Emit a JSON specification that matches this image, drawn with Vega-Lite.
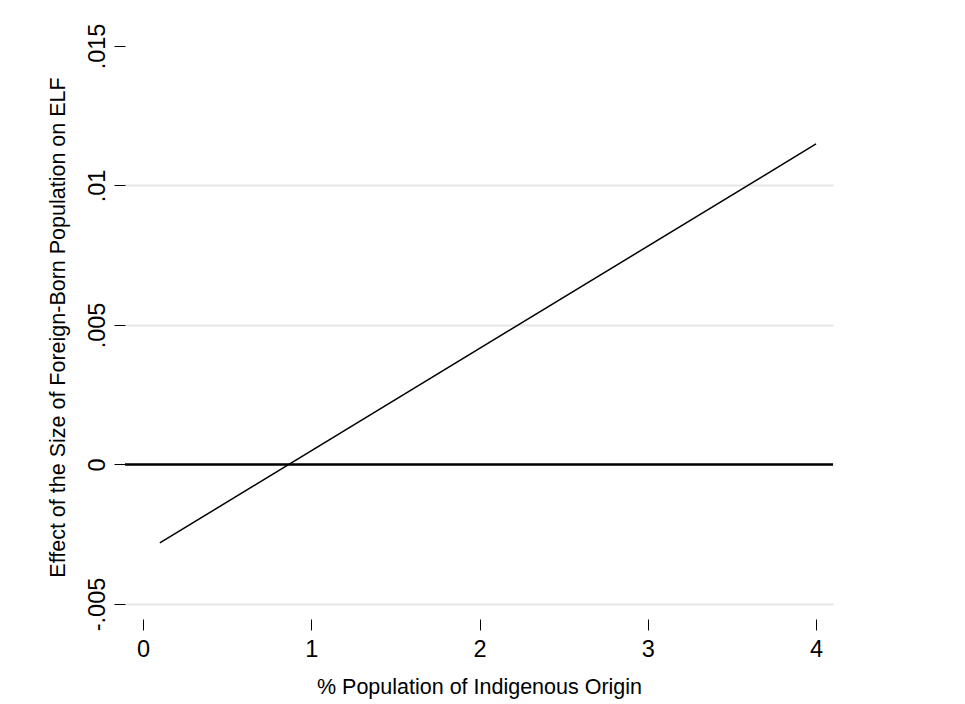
{
  "$schema": "https://vega.github.io/schema/vega-lite/v6.json",
  "autosize": {"type": "none"},
  "width": 708,
  "height": 584,
  "padding": {"left": 125, "top": 35, "right": 132, "bottom": 85},
  "background": "white",
  "config": {
    "view": {"stroke": null},
    "font": "Liberation Sans",
    "axis": {
      "domain": false,
      "labelFont": "Liberation Sans",
      "titleFont": "Liberation Sans",
      "labelColor": "#000000",
      "titleColor": "#000000",
      "labelFontSize": 23.5,
      "titleFontSize": 21.5,
      "titleFontWeight": "normal",
      "tickColor": "#000000",
      "tickWidth": 1,
      "tickSize": 11
    }
  },
  "data": {"values": [
    {"x": 0.1, "y": -0.00281},
    {"x": 4.0, "y": 0.01149}
  ]},
  "layer": [
    {
      "mark": {"type": "line", "color": "#000000", "strokeWidth": 1.5},
      "encoding": {
        "x": {
          "field": "x", "type": "quantitative",
          "scale": {"domain": [-0.107, 4.101], "nice": false, "zero": false},
          "axis": {
            "title": "% Population of Indigenous Origin",
            "values": [0, 1, 2, 3, 4],
            "grid": false,
            "labelPadding": 7,
            "titlePadding": 16,
            "labelFlush": false
          }
        },
        "y": {
          "field": "y", "type": "quantitative",
          "scale": {"domain": [-0.005538, 0.015394], "nice": false, "zero": false},
          "axis": {
            "title": "Effect of the Size of Foreign-Born Population on ELF",
            "values": [-0.005, 0, 0.005, 0.01, 0.015],
            "labelExpr": "datum.value == 0 ? '0' : (datum.value < 0 ? '-' : '') + replace(abs(datum.value) + '', '0.', '.')",
            "labelAngle": 270,
            "labelAlign": "center",
            "labelBaseline": "alphabetic",
            "labelPadding": 10,
            "labelFlush": false,
            "grid": true,
            "gridColor": "#e6e6e6",
            "gridWidth": 2,
            "gridOpacity": {"condition": {"test": "datum.value >= 0.015", "value": 0}, "value": 1},
            "titlePadding": 16
          }
        }
      }
    },
    {
      "mark": {"type": "rule", "color": "#000000", "strokeWidth": 2},
      "encoding": {"y": {"datum": 0}}
    }
  ]
}
